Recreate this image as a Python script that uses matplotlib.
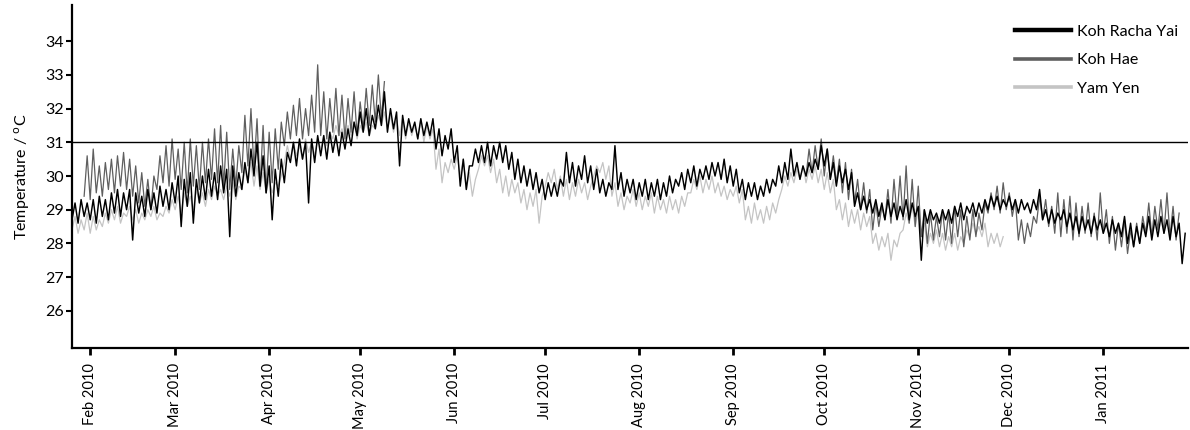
import numpy as np
import matplotlib
matplotlib.use('Agg')
from matplotlib import pyplot as plt
import matplotlib.dates as mdates
from matplotlib.lines import Line2D

plt.rcParams['font.family'] = ['Lato', 'DejaVu Sans']

# readings every 2 days: first day low, second day high
kry_start = '2010-01-26'
kry_lo = [28.7, 28.6, 28.8, 28.7, 28.6, 28.8, 28.7, 28.9, 28.8, 29.0, 28.1, 28.9, 28.8, 29.0,
          28.9, 29.1, 29.0, 29.2, 28.5, 29.1, 28.6, 29.2, 29.3, 29.4, 29.3, 29.5, 28.2, 29.4,
          29.6, 29.8, 30.0, 29.7, 29.5, 28.7, 29.4, 29.8, 30.4, 30.3, 30.5, 29.2, 30.4, 30.6,
          30.5, 30.7, 30.6, 30.8, 30.9, 31.2, 31.3, 31.2, 31.4, 31.5, 31.3, 31.4, 30.3, 31.2,
          31.3, 31.1, 31.2, 31.2, 30.8, 30.6, 30.8, 30.4, 29.7, 29.6, 30.3, 30.4, 30.4, 30.3,
          30.5, 30.4, 30.2, 29.9, 29.8, 29.7, 29.6, 29.5, 29.3, 29.4, 29.4, 29.7, 29.8, 29.7,
          29.9, 29.8, 29.6, 29.5, 29.4, 29.6, 29.6, 29.4, 29.5, 29.3, 29.4, 29.3, 29.4, 29.3,
          29.4, 29.5, 29.7, 29.6, 29.8, 29.7, 29.9, 29.9, 30.0, 29.9, 29.8, 29.7, 29.5, 29.3,
          29.4, 29.3, 29.4, 29.5, 29.7, 29.8, 29.9, 30.0, 29.9, 30.0, 30.1, 30.2, 30.3, 29.9,
          29.7, 29.8, 29.6, 29.1, 29.0, 29.0, 28.9, 28.8, 28.7, 28.8, 28.7, 28.8, 28.7, 28.8,
          27.5, 28.6, 28.7, 28.6, 28.7, 28.6, 28.8, 28.7, 28.9, 28.8, 28.9, 29.0, 29.1, 29.0,
          29.1, 29.0, 28.9, 29.0, 28.9, 29.0, 28.7, 28.6, 28.6, 28.7, 28.5, 28.4, 28.3, 28.4,
          28.3, 28.4, 28.3, 28.2, 28.3, 28.2, 28.0, 27.9, 28.0, 28.2, 28.1, 28.2, 28.3, 28.1,
          28.2, 27.4]
kry_hi = [29.2, 29.3, 29.2, 29.3, 29.4, 29.3, 29.5, 29.6, 29.5, 29.6, 29.5, 29.4, 29.6, 29.5,
          29.7, 29.6, 29.8, 30.0, 29.9, 30.1, 29.9, 30.0, 30.2, 30.1, 30.3, 30.2, 30.3, 30.1,
          30.4, 30.8, 31.0, 30.6, 30.3, 30.2, 30.5, 30.7, 31.0, 31.1, 31.0, 31.1, 31.2, 31.2,
          31.3, 31.2, 31.3, 31.4, 31.6, 31.9, 32.0, 31.8, 32.1, 32.5, 32.0, 31.9, 31.8, 31.7,
          31.6, 31.7, 31.6, 31.7, 31.4, 31.2, 31.4, 30.9, 30.5, 30.3, 30.8, 30.9, 31.0, 30.9,
          31.0, 30.9, 30.7, 30.5, 30.3, 30.2, 30.1, 29.9, 29.8, 29.8, 29.9, 30.7, 30.4, 30.3,
          30.6, 30.3, 30.2, 29.9, 29.8, 30.9, 30.1, 29.9, 29.9, 29.8, 29.9, 29.8, 29.9, 29.8,
          30.0, 29.9, 30.1, 30.2, 30.3, 30.2, 30.3, 30.4, 30.4, 30.5, 30.3, 30.2, 29.9, 29.8,
          29.8, 29.7, 29.9, 29.9, 30.3, 30.4, 30.8, 30.4, 30.3, 30.4, 30.5, 30.9, 30.8, 30.4,
          30.3, 30.2, 30.1, 29.5, 29.4, 29.3, 29.3, 29.2, 29.3, 29.2, 29.1, 29.3, 29.2, 29.1,
          29.0, 29.0, 28.9, 29.0, 29.0, 29.1, 29.2, 29.1, 29.2, 29.2, 29.3, 29.4, 29.4, 29.3,
          29.4, 29.3, 29.3, 29.2, 29.3, 29.6, 29.0, 29.0, 28.9, 29.0, 28.9, 28.8, 28.8, 28.7,
          28.8, 28.7, 28.6, 28.7, 28.6, 28.8, 28.6, 28.5, 28.6, 28.8, 28.7, 28.8, 28.7, 28.8,
          28.6, 28.3]

kh1_start = '2010-01-30'
kh1_lo = [29.4, 29.3, 29.5, 29.4, 29.6, 29.5, 29.7, 29.6, 29.4, 29.2, 29.1, 29.0, 29.6, 29.8,
          29.7, 29.9, 29.6, 29.5, 29.7, 29.6, 29.8, 29.9, 29.8, 29.7, 29.6, 29.7, 30.1, 30.3,
          30.2, 29.7, 29.5, 29.8, 30.2, 30.9, 31.1, 31.2, 31.1, 31.2, 31.3, 31.2, 31.1, 31.3,
          31.2, 31.1, 31.3, 31.2, 31.4, 31.5, 31.6, 31.7]
kh1_hi = [30.6, 30.8, 30.3, 30.4, 30.5, 30.6, 30.7, 30.5, 30.3, 30.1, 29.9, 30.0, 30.6, 30.9,
          31.1, 30.8, 31.0, 31.1, 30.9, 31.0, 31.1, 31.4, 31.5, 31.3, 30.8, 30.9, 31.8, 32.0,
          31.7, 31.5, 31.3, 31.4, 31.6, 31.9, 32.1, 32.3, 32.0, 32.4, 33.3, 32.5, 32.3, 32.6,
          32.4, 32.3, 32.5, 32.2, 32.6, 32.7, 33.0, 32.8]

kh2_start = '2010-09-25'
kh2_lo = [30.0, 30.1, 30.2, 30.0, 29.9, 29.8, 29.5, 29.3, 29.2, 29.0, 28.9, 28.4, 28.5, 28.7,
          28.6, 28.8, 28.7, 28.6, 28.5, 28.2, 28.0, 28.1, 28.2, 28.1, 28.0, 28.2, 27.9, 28.1,
          28.2, 28.4, 28.9, 29.0, 28.9, 29.0, 28.8, 28.1, 28.0, 28.2, 28.6, 28.7, 28.5, 28.3,
          28.2, 28.3, 28.1, 28.2, 28.3, 28.2, 28.1, 28.3, 28.0, 27.8, 27.9, 27.7, 27.9, 28.0,
          28.3, 28.2, 28.4, 28.3, 28.2, 28.1]
kh2_hi = [30.8, 30.9, 31.1, 30.8, 30.6, 30.5, 30.4, 30.2, 29.9, 29.8, 29.6, 29.2, 29.1, 29.6,
          29.9, 30.0, 30.3, 29.9, 29.7, 29.0, 28.9, 28.8, 29.0, 28.9, 29.1, 29.0, 28.8, 29.0,
          28.9, 29.2, 29.5, 29.7, 29.8, 29.5, 29.3, 28.7, 28.6, 28.8, 29.4, 29.3, 29.1, 29.5,
          29.3, 29.4, 29.2, 29.1, 29.2, 28.9, 29.5, 29.0, 28.8, 28.6, 28.7, 28.4, 28.6, 28.8,
          29.2, 29.1, 29.3, 29.5, 29.1, 28.9]

yy_start = '2010-01-26'
yy_lo = [28.4, 28.3, 28.4, 28.3, 28.4, 28.5, 28.6, 28.7, 28.6, 28.8, 28.7, 28.6, 28.7, 28.8,
         28.7, 28.8, 28.9, 29.0, 28.9, 29.1, 29.0, 29.2, 29.1, 29.3, 29.4, 29.3, 29.4, 29.3,
         29.6, 29.8, 29.7, 29.6, 29.5, 29.5, 29.7, 30.4, 30.5, 30.6, 30.5, 30.7, 30.6, 30.8,
         30.9, 31.1, 31.2, 31.1, 31.2, 31.1, 31.3, 31.2, 31.4, 31.5, 31.4, 31.3, 31.2, 31.1,
         31.2, 31.1, 31.0, 31.1, 30.2, 29.8, 30.1, 30.2, 30.0, 29.6, 29.4, 30.2, 30.3, 30.1,
         29.8, 29.5, 29.4, 29.5, 29.2, 29.0, 29.1, 28.6, 29.7, 29.8, 29.6, 29.4, 29.3, 29.4,
         29.5, 29.3, 30.0, 30.1, 29.9, 29.4, 29.1, 29.0, 29.2, 29.1, 29.0, 29.1, 28.9, 29.0,
         28.9, 29.0, 28.9, 29.1, 29.5, 29.6, 29.5, 29.6, 29.5, 29.4, 29.3, 29.4, 29.2, 28.7,
         28.6, 28.7, 28.6, 28.7, 28.9, 29.6, 29.7, 29.8, 29.9, 29.8, 29.9, 29.8, 29.6, 29.5,
         29.0, 28.7, 28.5, 28.6, 28.4, 28.5, 28.0, 27.8, 27.9, 27.5, 27.9, 28.4, 28.6, 28.5,
         28.2, 27.9, 28.0, 27.9, 27.8, 27.9, 27.8, 28.0, 28.2, 28.3, 28.2, 27.9, 28.0, 27.9]
yy_hi = [28.8, 28.7, 28.9, 28.8, 28.7, 28.9, 29.0, 29.1, 28.9, 29.1, 29.0, 28.9, 29.0, 29.1,
         28.9, 29.1, 29.3, 29.4, 29.5, 29.4, 29.6, 29.5, 29.6, 29.7, 29.6, 29.7, 29.8, 29.7,
         30.2, 30.4, 30.3, 30.1, 29.9, 29.8, 30.0, 30.9, 31.0, 30.9, 31.1, 31.0, 31.1, 31.2,
         31.3, 31.5, 31.4, 31.5, 31.6, 31.5, 31.6, 31.5, 31.8, 31.9, 31.8, 31.7, 31.7, 31.6,
         31.5, 31.7, 31.5, 31.4, 30.8, 30.4, 30.5, 30.6, 30.5, 30.1, 29.9, 30.6, 30.6, 30.5,
         30.2, 30.0, 29.9, 29.8, 29.6, 29.5, 29.6, 29.4, 30.1, 30.2, 30.0, 29.9, 29.8, 29.9,
         29.8, 29.7, 30.3, 30.4, 30.3, 29.8, 29.5, 29.4, 29.6, 29.5, 29.4, 29.5, 29.4, 29.3,
         29.4, 29.3, 29.4, 29.5, 29.9, 30.0, 29.9, 30.0, 29.8, 29.7, 29.6, 29.7, 29.6, 29.1,
         29.2, 29.0, 29.1, 29.2, 29.3, 30.0, 30.1, 30.2, 30.3, 30.2, 30.3, 30.2, 30.1, 29.9,
         29.3, 29.2, 29.0, 29.0, 28.9, 28.8, 28.3, 28.2, 28.3, 28.1, 28.3, 28.9, 29.1, 29.0,
         28.6, 28.3, 28.4, 28.3, 28.2, 28.3, 28.2, 28.4, 28.6, 28.5, 28.6, 28.3, 28.3, 28.2]

month_ticks = ['2010-02-01', '2010-03-01', '2010-04-01', '2010-05-01', '2010-06-01',
               '2010-07-01', '2010-08-01', '2010-09-01', '2010-10-01', '2010-11-01',
               '2010-12-01', '2011-01-01']
y_ticks = [26, 27, 28, 29, 30, 31, 32, 33, 34]
threshold = 31


def zigzag(start, lo, hi):
    # low on the first day of each pair, high on the second
    t0 = mdates.datestr2num(start)
    n = len(lo)
    days = t0 + 2 * np.arange(n)
    x = np.empty(2 * n)
    y = np.empty(2 * n)
    x[0::2] = days
    x[1::2] = days + 1
    y[0::2] = lo
    y[1::2] = hi
    return x, y


fig = plt.figure(figsize=(11.9, 4.3), dpi=100)
ax = fig.add_axes([0.0605, 0.191, 0.938, 0.797])

c_kry = 'black'
c_kh = '#5f5f5f'
c_yy = '#c4c4c4'

x, y = zigzag(yy_start, yy_lo, yy_hi)
ax.plot(x, y, color=c_yy, lw=0.9, zorder=1)
x, y = zigzag(kh1_start, kh1_lo, kh1_hi)
ax.plot(x, y, color=c_kh, lw=0.9, zorder=2)
x, y = zigzag(kh2_start, kh2_lo, kh2_hi)
ax.plot(x, y, color=c_kh, lw=0.9, zorder=2)
x, y = zigzag(kry_start, kry_lo, kry_hi)
ax.plot(x, y, color=c_kry, lw=1.05, zorder=3)

ax.axhline(threshold, color='black', lw=1.0, zorder=4)

ax.set_xlim(mdates.datestr2num('2010-01-26'), mdates.datestr2num('2011-01-29'))
ax.set_ylim(24.9, 35.07)

ax.set_xticks([mdates.datestr2num(d) for d in month_ticks])
ax.xaxis.set_major_formatter(mdates.DateFormatter('%b %Y'))
ax.set_yticks(y_ticks)
ax.tick_params(axis='x', rotation=90, labelsize=10.5, length=5, width=2, pad=6)
ax.tick_params(axis='y', labelsize=11.5, length=4, width=1.5, pad=2)

for s in ['top', 'right']:
    ax.spines[s].set_visible(False)
for s in ['left', 'bottom']:
    ax.spines[s].set_linewidth(1.6)

ax.set_ylabel(r'Temperature / $^{\mathrm{o}}$C', fontsize=11.5, labelpad=9)

handles = [Line2D([], [], color=c_kry, lw=3.2),
           Line2D([], [], color=c_kh, lw=2.6),
           Line2D([], [], color=c_yy, lw=2.6)]
ax.legend(handles, ['Koh Racha Yai', 'Koh Hae', 'Yam Yen'], loc='upper right',
          bbox_to_anchor=(1.004, 0.985), frameon=False, fontsize=11.5,
          handlelength=3.5, handletextpad=0.4, labelspacing=0.9)

fig.savefig('out.png', dpi=100)
